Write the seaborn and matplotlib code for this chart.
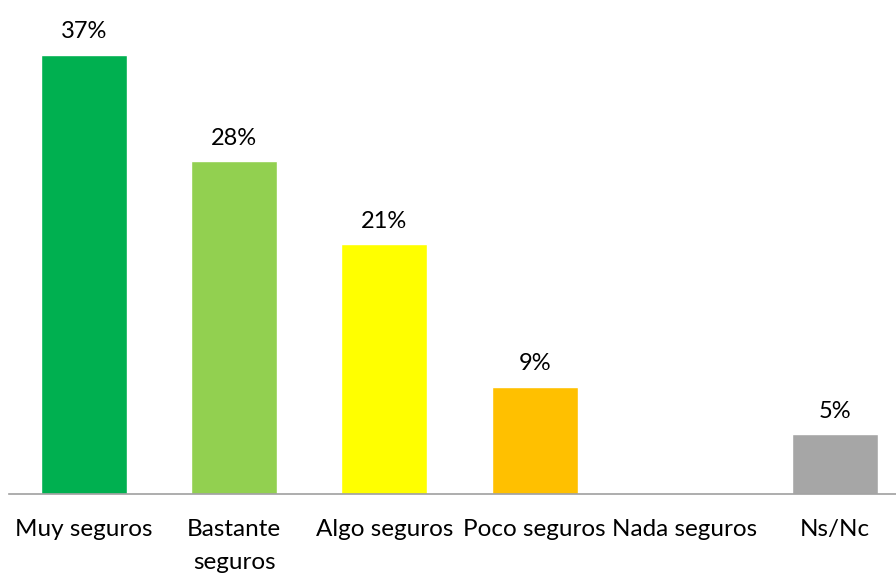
import pandas as pd
import numpy as np
import seaborn as sns
import matplotlib.pyplot as plt

categorias = ['Muy seguros', 'Bastante\nseguros', 'Algo seguros', 'Poco seguros', 'Nada seguros', 'Ns/Nc']
porcentajes = [37, 28, 21, 9, 0, 5]
colores = ['#00B050', '#92D050', '#FFFF00', '#FFC000', '#FF0000', '#A6A6A6']

df = pd.DataFrame({'cat': categorias, 'pct': porcentajes})

sns.set_style('white')
plt.rcParams['font.family'] = ['Lato', 'DejaVu Sans']

fig = plt.figure(figsize=(8.96, 5.73), dpi=100)
ax = fig.add_axes([9 / 896, (573 - 493.5) / 573, 1 - 9 / 896, 493.5 / 573])

sns.barplot(data=df, x='cat', y='pct', hue='cat', palette=colores, width=0.573,
            saturation=1, legend=False, ax=ax)

# etiquetas de porcentaje encima de cada barra
for i, v in enumerate(porcentajes):
    if v > 0:
        ax.annotate(f'{v}%', (i, v), xytext=(0, 9), textcoords='offset points',
                    ha='center', va='bottom', fontsize=17, color='#000000')

ax.set_xlim(-0.5, 5 + (896 - 835) / 150)
ax.set_ylim(0, 41.6)
ax.set_xlabel('')
ax.set_ylabel('')
ax.set_yticks([])
ax.tick_params(axis='x', length=0, pad=18.5, labelsize=17.5, colors='#000000')
for lbl in ax.get_xticklabels():
    lbl.set_linespacing(1.7)
for s in ['top', 'right', 'left']:
    ax.spines[s].set_visible(False)
ax.spines['bottom'].set_color('#A0A0A0')
ax.spines['bottom'].set_linewidth(1.2)

fig.savefig('out.png', dpi=100)
